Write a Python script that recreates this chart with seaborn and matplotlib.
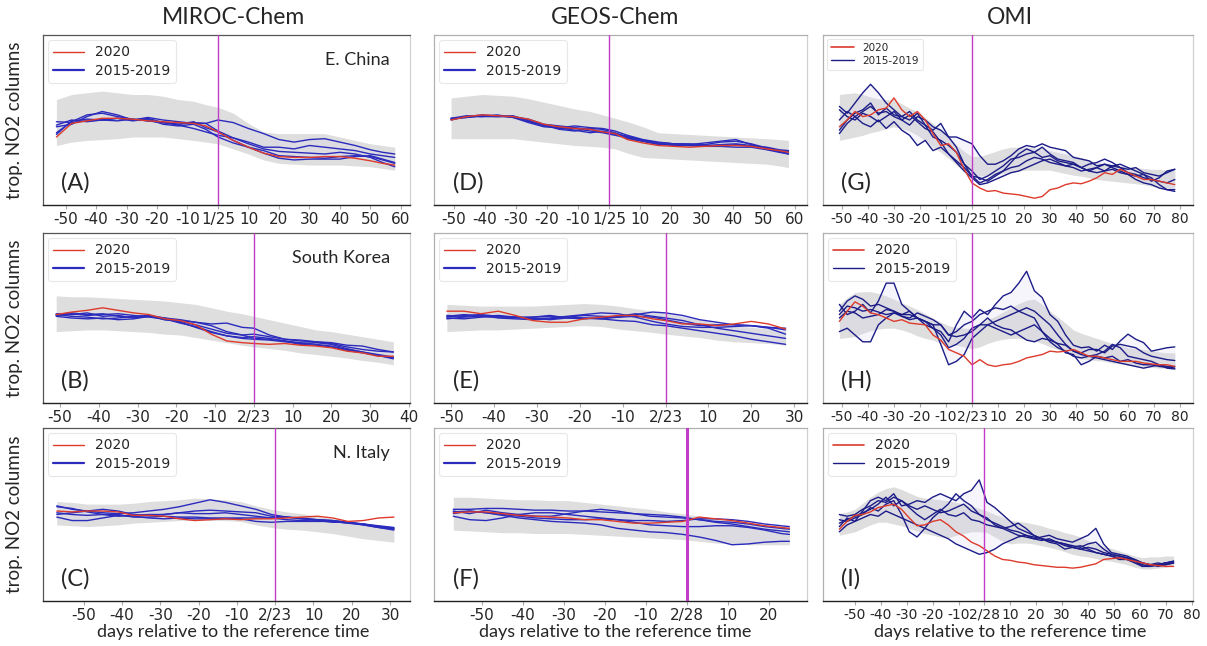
import matplotlib
matplotlib.use("Agg")
import matplotlib.pyplot as plt
from matplotlib.lines import Line2D
import seaborn as sns

# relative tropospheric NO2 columns (arbitrary units), x = days relative to reference date

# ---- (A) MIROC-Chem, E. China ----
A_day = [-53, -48, -43, -38, -33, -28, -23, -18, -13, -8, -4, 0, 5, 10, 15, 20, 25, 30, 35, 40, 45, 50, 54, 58]
A_2020 = [40, 48, 49.5, 51, 51, 50.5, 49.5, 49, 48.5, 48, 46.5, 43, 38, 34, 30.5, 28.5, 28, 28, 28.5, 28.5, 27.5, 26, 24.5, 23.5]
A_prev = [
    [49, 48.5, 49.5, 50, 49.5, 50.5, 49.5, 48.5, 47.5, 48.5, 48, 50, 48.5, 45, 42, 38.5, 37, 38.5, 39, 37, 35, 32.5, 31, 30],
    [42.5, 49, 53, 54, 52, 50.5, 49.5, 48.5, 47, 45, 43, 41, 39.5, 37, 34, 34, 33, 35, 34, 33, 32, 30, 29, 28],
    [46, 47.5, 52, 55, 53, 50, 51, 48.5, 47.5, 49, 45.5, 43, 38, 34, 30.5, 27.5, 26.5, 27, 27, 27, 28.5, 29, 27, 25],
    [47, 50, 49, 50, 51, 49.5, 50.5, 47.5, 46.5, 47.5, 44.5, 40, 36.5, 34, 32, 29, 28.5, 28, 27.5, 28.5, 29, 28.5, 26.5, 24.5],
    [41.5, 49.5, 50.5, 50, 51, 50, 51.5, 50, 49, 48, 48, 43.5, 39.5, 36, 33, 31.5, 31, 30.5, 30, 31, 30, 28, 25, 22.5],
]
A_hi = [62, 65, 66, 67, 66, 65, 65, 64, 62, 61, 59, 57.5, 54, 48, 43, 42, 42, 42, 42, 40, 38, 36, 35, 34]
A_lo = [35, 37, 38, 38.5, 39, 40, 40, 40, 39, 38, 37, 36, 33, 30, 26.5, 24.5, 24, 23.5, 23.5, 23.5, 23, 22.5, 21.5, 20.5]

# ---- (D) GEOS-Chem, E. China ----
D_day = [-51, -46, -41, -36, -31, -26, -21, -16, -11, -6, -2, 2, 6, 11, 16, 21, 26, 31, 36, 41, 46, 51, 55, 58]
D_2020 = [50, 52, 53, 52.5, 52, 50.5, 47.5, 46, 45, 44.5, 43, 42, 38.5, 36.5, 35, 34.5, 34, 34.5, 35, 35, 34.5, 33, 32, 31]
D_prev = [
    [51, 52.5, 52, 52, 52.5, 49.5, 46.5, 45.5, 46.5, 45.5, 45, 43.5, 41, 38.5, 37, 36, 36, 35.5, 37, 37.5, 36, 33.5, 32, 31.5],
    [50.5, 51.5, 52.5, 52.5, 52, 49, 47, 44.5, 43.5, 45, 44.5, 42.5, 40, 38, 36.5, 36, 35.5, 36.5, 37.5, 38.5, 35.5, 33, 31.5, 30.5],
    [50, 52, 52, 53, 51.5, 48.5, 46, 45.5, 44, 42.5, 43.5, 42, 39, 37.5, 36, 35, 35, 35, 34.5, 34, 34, 32.5, 31, 30],
    [51, 51.5, 52.5, 52, 52, 50.5, 47.5, 46.5, 45.5, 44.5, 43, 41.5, 40.5, 38, 36.5, 36, 35.5, 35, 35.5, 36, 35, 34, 32.5, 32],
    [50.5, 52, 53, 52.5, 51.5, 50, 47, 45, 45, 43.5, 42.5, 41, 39.5, 37.5, 35.5, 35.5, 35, 34.5, 34.5, 35.5, 34.5, 33, 31.5, 30],
]
D_hi = [63, 64, 65, 64.5, 64, 62.5, 60.5, 58.5, 56.5, 55, 53, 51, 49, 46, 42.5, 42, 41.5, 41, 40.5, 40, 39.5, 39, 38.5, 38]
D_lo = [39, 39, 39, 39, 39, 38, 37, 36, 35, 34.5, 34, 33, 30.5, 28, 27.5, 27, 26.5, 26, 25.5, 25, 24.5, 24, 23, 22]

# ---- (G) OMI, E. China ----
G_day = [-51, -48, -45, -42, -39, -36, -33, -30, -27, -24, -21, -18, -15, -12, -9, -6, -3, 0, 3, 6, 9, 12,
         15, 18, 21, 24, 27, 30, 33, 36, 39, 42, 45, 48, 51, 54, 57, 60, 63, 66, 69, 72, 75, 78]
G_2020 = [46, 50, 55, 52, 53, 56, 57, 63, 56, 52, 55, 50, 42, 35, 36, 31, 21, 13, 10, 8, 8.5, 7,
          6.5, 6, 5, 4, 5, 9, 10, 12, 13, 12.5, 14, 16, 19, 18, 21, 19, 17, 15, 15, 14, 13, 12]
G_prev = [
    [58, 54, 60, 66, 71, 66, 60, 56, 52, 55, 50, 47, 44, 48, 40, 34, 24, 17, 16, 14, 17, 20,
     25, 30, 33, 31, 34, 30, 27, 26, 25, 22, 20, 22, 24, 22, 20, 18, 17, 18, 14, 16, 20, 21],
    [50, 55, 52, 55, 58, 54, 55, 52, 50, 47, 52, 50, 46, 44, 40, 40, 38, 36, 29, 24, 24, 26,
     29, 33, 35, 34, 36, 34, 33, 32, 28, 27, 26, 23, 24, 23, 22, 21, 22, 19, 18, 17, 19, 21],
    [42, 48, 52, 48, 46, 50, 45, 49, 44, 41, 35, 38, 32, 34, 30, 25, 20, 16, 12, 13, 15, 17,
     19, 20, 22, 24, 26, 27, 25, 23, 24, 22, 20, 19, 20, 23, 24, 22, 20, 18, 16, 12, 9, 8],
    [56, 52, 50, 54, 52, 49, 52, 55, 50, 53, 49, 45, 43, 37, 30, 26, 22, 17, 13, 15, 18, 20,
     22, 23, 26, 28, 27, 25, 24, 23, 22, 20, 21, 22, 20, 21, 19, 18, 15, 13, 12, 10, 9, 9],
    [44, 50, 54, 56, 60, 53, 57, 53, 52, 50, 54, 47, 40, 38, 35, 31, 24, 20, 15, 17, 20, 23,
     27, 28, 30, 31, 28, 29, 26, 25, 24, 22, 24, 25, 27, 25, 22, 19, 18, 16, 15, 14, 13, 15],
]
G_hi = [65, 65.5, 66, 65, 63.5, 62.5, 62, 62, 59.5, 57, 55, 51.5, 48, 44.5, 40.5, 35.5, 31.5, 28.5, 28.5, 30, 31.5, 33,
        34, 34, 34, 33.5, 33, 32, 31, 30, 29, 28, 26.5, 25, 24, 23.5, 23, 22.5, 22, 21.5, 21, 21, 20.5, 20.5]
G_lo = [38, 39, 40, 41, 42.5, 43.5, 45, 46, 45, 43.5, 41, 38, 34, 31, 27.5, 23.5, 19.5, 16.5, 17, 17.5, 18, 18.5,
        19, 20, 20.5, 20.5, 20.5, 20.5, 19.5, 18.5, 17.5, 17, 16, 15, 14.5, 14, 13.5, 13, 12.5, 12, 11, 10.5, 10, 9]

# ---- (B) MIROC-Chem, South Korea ----
B_day = [-51, -47, -43, -39, -35, -31, -27, -23, -19, -15, -11, -7, -3, 0, 4, 8, 12, 16, 20, 24, 28, 32, 36]
B_2020 = [52, 53.5, 54.5, 56, 54.5, 53, 52, 49.5, 48.5, 46, 40.5, 36.5, 35.5, 35, 34.5, 35, 34, 33.5, 32.5, 30.5, 29.5, 27.5, 27.5]
B_prev = [
    [52.5, 52, 53, 51, 51.5, 50, 51, 49, 48.5, 47.5, 46.5, 47, 44.5, 44, 40, 37.5, 37, 36, 35, 33, 31.5, 30.5, 30],
    [51.5, 52.5, 51.5, 52, 52.5, 51.5, 50.5, 49.5, 47, 45, 42, 39.5, 38.5, 39, 38, 36.5, 34.5, 34, 33, 31, 29.5, 28, 26],
    [52, 51, 50.5, 49.5, 50, 51, 51.5, 50, 47.5, 44.5, 41.5, 39.5, 38, 37.5, 37, 36, 35, 35.5, 34.5, 32, 30, 28, 26.5],
    [51, 50, 49.5, 50, 49, 49.5, 51, 50, 49, 47.5, 45.5, 42, 40, 38, 37.5, 36.5, 35.5, 34.5, 33.5, 31.5, 30, 28.5, 27],
    [52, 53, 52, 52.5, 51, 50.5, 51.5, 49, 48, 46, 43.5, 41, 40, 40.5, 39, 37.5, 36.5, 36, 35.5, 34, 33.5, 31.5, 30],
]
B_hi = [63, 62.5, 62.5, 62, 61.5, 61, 60.5, 60, 59, 58, 56, 54, 52.5, 51, 49, 47, 45, 43, 42, 40.5, 39, 37.5, 36]
B_lo = [42, 42.5, 43, 43, 42.5, 42, 41.5, 40.5, 40, 38.5, 37, 35.5, 34, 33, 32, 31, 29.5, 28.5, 27.5, 26.5, 25, 24, 22.5]

# ---- (E) GEOS-Chem, South Korea ----
E_day = [-51, -47, -43, -39, -35, -31, -27, -23, -19, -15, -11, -7, -3, 0, 4, 8, 12, 16, 20, 24, 28]
E_2020 = [54, 54, 52.5, 54, 51.5, 48.5, 47.5, 47.5, 49.5, 50.5, 51.5, 51.5, 49.5, 48.5, 46.5, 46.5, 45.5, 46.5, 48, 46.5, 43.5]
E_prev = [
    [50.5, 51.5, 52, 51, 50, 50.5, 51, 50.5, 51.5, 51, 50.5, 52, 53.5, 53, 51.5, 49, 47.5, 46, 45.5, 44.5, 43],
    [51.5, 51, 51.5, 50, 49.5, 49, 49.5, 50.5, 50, 49.5, 48.5, 48, 46, 45.5, 44, 42.5, 41, 39.5, 37.5, 36, 34.5],
    [49.5, 50.5, 51, 51.5, 50.5, 49.5, 50, 51, 52, 53, 52.5, 50.5, 48, 46.5, 45, 44.5, 44.5, 45, 45.5, 44, 40.5],
    [50, 49.5, 50.5, 51, 50.5, 50, 49, 50, 49.5, 50, 51, 52.5, 51, 50, 48.5, 46, 44, 42.5, 41, 39.5, 38],
    [51, 52, 51, 50.5, 50.5, 50.5, 51.5, 50, 50, 49.5, 50.5, 51, 50.5, 49, 47, 45.5, 46, 46, 45.5, 44.5, 44],
]
E_hi = [58, 57.5, 57, 57, 57, 57, 57.5, 58, 58.5, 58, 57, 55.5, 54, 53, 51, 49, 47, 45.5, 44.5, 43.5, 42.5]
E_lo = [42, 42.5, 43, 43, 43.5, 44, 44.5, 45, 45.5, 45, 43.5, 42.5, 41.5, 40.5, 39.5, 38.5, 37, 36, 35.5, 35, 34]

# ---- (H) OMI, South Korea ----
H_day = G_day
H_2020 = [48, 54, 59.5, 57, 53, 52, 50, 48, 49, 47, 46.5, 46, 40, 37, 31.5, 29.5, 27.5, 22.5, 25.5, 22.5, 21.5, 22.5,
          23, 24.5, 26.5, 27.5, 28.5, 30.5, 30, 30.5, 31.5, 29.5, 27.5, 27.5, 26.5, 25.5, 24.5, 24.5, 24.5, 23.5, 23, 22.5, 22.5, 21.5]
H_prev = [
    [54, 60, 63, 61, 57, 58, 56, 54, 52, 52, 50, 46, 44, 42, 36, 46, 54, 50, 55, 52, 58, 63,
     65, 70.5, 77.5, 66, 62, 52, 48, 40, 34, 32.5, 33, 30.5, 34, 31.5, 36.5, 40.5, 37.5, 35.5, 30.5, 31.5, 32.5, 33],
    [58, 52, 54, 58, 53, 60, 70.5, 70.5, 58, 54, 50, 48, 46, 34.5, 22.5, 24.5, 28.5, 38, 42, 46, 48, 50,
     52, 54, 52, 50, 42, 38, 34.5, 29.5, 28.5, 22.5, 24.5, 27.5, 26.5, 27.5, 24.5, 25.5, 23.5, 22.5, 22.5, 21.5, 21, 21.5],
    [42, 44, 40, 36, 36, 46, 50, 53, 52, 54, 50, 48, 46, 46, 40, 39, 40, 42, 46, 50, 46, 44,
     43, 40, 37, 36, 38, 37, 35, 34, 30.5, 28.5, 27.5, 26.5, 25.5, 24.5, 23.5, 22.5, 21.5, 20.5, 21.5, 22.5, 21.5, 20.5],
    [52, 57, 56, 54, 55, 53.5, 52, 53, 51, 50, 53, 51, 49, 46, 40, 42, 46, 48, 52, 54, 56, 55,
     57, 54, 56, 54, 50, 46, 40, 34.5, 30.5, 29.5, 31.5, 31.5, 29.5, 33.5, 34.5, 33.5, 32.5, 29.5, 27.5, 26.5, 25.5, 25],
    [50, 54, 53, 50, 51, 52, 55, 54, 51, 49, 50, 48, 44, 40, 32.5, 34.5, 38, 44, 46, 46, 44, 42,
     40, 42, 44, 46, 42, 36, 32.5, 30.5, 27.5, 26.5, 27.5, 28.5, 30.5, 34.5, 32.5, 27.5, 26.5, 25.5, 24.5, 22.5, 20.5, 20],
]
H_hi = [58, 62, 65, 65.5, 65.5, 64.5, 63, 61, 59, 57, 55, 52.5, 50, 47.5, 45.5, 44.5, 44, 44, 46.5, 49, 51, 53.5,
        56, 58.5, 60.5, 61, 58, 54, 50.5, 47, 43, 41, 39.5, 38, 36.5, 35, 34, 32.5, 32, 31.5, 31, 30, 29.5, 29.5]
H_lo = [38, 38.5, 39, 41, 42.5, 43.5, 44, 44, 43, 41.5, 39.5, 38, 37, 35, 34, 34, 33, 32, 33, 35, 36.5, 37.5,
        38, 38, 37.5, 36.5, 35, 33, 31.5, 30, 27.5, 26, 25.5, 25, 24.5, 23.5, 23, 22.5, 22, 21.5, 21, 20.5, 20.5, 20.5]

# ---- (C) MIROC-Chem, N. Italy ----
C_day = [-57, -53, -49, -45, -41, -37, -33, -29, -25, -21, -17, -13, -9, -5, -1, 3, 7, 11, 15, 19, 23, 27, 31]
C_2020 = [52, 51.5, 52, 52, 51.5, 49.5, 49.5, 49, 47.5, 46.5, 47, 47.5, 47, 47.5, 47.5, 48, 48.5, 49, 48, 46, 46.5, 48, 48.5]
C_prev = [
    [55, 53, 52, 51, 50.5, 51, 52, 53, 54.5, 56.5, 58.5, 57, 55, 53, 50, 48.5, 47.5, 47, 46, 45, 44.5, 43.5, 42.5],
    [50, 51, 52, 53, 52, 50, 49.5, 50, 51, 52, 52.5, 52, 51.5, 51, 49, 48.5, 48, 47, 46.5, 45.5, 44.5, 43, 42],
    [48.5, 46.5, 46.5, 48, 49.5, 49, 48, 47.5, 48, 47.5, 47.5, 47.5, 47.5, 46, 45.5, 46, 46, 46, 46, 45, 44, 42.5, 41.5],
    [54.5, 53.5, 51.5, 50, 49, 49.5, 50, 50, 51, 50.5, 50.5, 51, 50, 49, 48, 48.5, 47.5, 46.5, 45.5, 45.5, 44.5, 43, 42],
    [51, 50, 49.5, 50, 50, 48.5, 48.5, 49, 48.5, 48.5, 48, 48, 48, 48, 48, 47, 46.5, 47, 46.5, 45.5, 44, 42.5, 41],
]
C_hi = [57.5, 57, 56, 56, 56, 56.5, 57.5, 58, 58.5, 59.5, 59, 58.5, 57.5, 55, 53, 51.5, 50.5, 49, 47.5, 46, 45, 44, 43]
C_lo = [44, 43.5, 43, 43.5, 44, 45, 45.5, 46, 46.5, 47, 46.5, 46.5, 46, 44, 42.5, 41.5, 41, 40, 39, 37.5, 36, 35, 34]

# ---- (F) GEOS-Chem, N. Italy ----
F_day = [-57, -53, -49, -45, -41, -37, -33, -29, -25, -21, -17, -13, -9, -5, -1, 3, 7, 11, 15, 19, 23, 25]
F_2020 = [51, 51.5, 51.5, 50.5, 49.5, 49, 48.5, 48, 47, 47, 46, 45, 45, 45.5, 46, 48.5, 47.5, 46.5, 45, 43.5, 42.5, 42]
F_prev = [
    [53, 53, 53.5, 53.5, 53, 52.5, 52.5, 52, 52, 51.5, 51, 50.5, 50, 49.5, 48.5, 47, 45.5, 44.5, 43, 41.5, 40.5, 40],
    [50.5, 52, 51, 49.5, 48, 47, 46, 45.5, 45, 44, 42, 41, 40, 39.5, 38.5, 37, 35, 32.5, 33, 34, 34.5, 34.5],
    [49, 47, 46.5, 48, 50, 51, 51, 50, 49, 48, 47, 45.5, 44, 43.5, 43, 43, 43.5, 43.5, 42.5, 41, 39, 38.5],
    [52, 50.5, 52.5, 51, 50, 49, 49, 50.5, 52, 53, 52, 50.5, 49, 48.5, 48, 47, 46, 45.5, 44.5, 43, 42, 41.5],
    [51.5, 52, 51, 50, 49, 48, 47.5, 47, 47, 47.5, 47, 46.5, 46.5, 46, 46.5, 47.5, 47.5, 47, 46, 44.5, 43.5, 43],
]
F_hi = [60, 60, 59.5, 59, 58.5, 58.5, 58, 58, 57, 56, 55, 54, 53, 51.5, 50.5, 49, 48, 46.5, 45.5, 44, 43, 43]
F_lo = [41, 40.5, 40, 39.5, 39.5, 39, 39, 39, 38.5, 38, 37.5, 37, 36.5, 36, 35.5, 34.5, 33.5, 33, 32.5, 32.5, 32.5, 32.5]

# ---- (I) OMI, N. Italy ----
I_day = [-56, -53, -50, -47, -44, -41, -38, -35, -32, -29, -26, -23, -20, -17, -14, -11, -8, -5, -2, 1, 4, 7,
         10, 13, 16, 19, 22, 25, 28, 31, 34, 37, 40, 43, 46, 49, 52, 55, 58, 61, 64, 67, 70, 73]
I_2020 = [41.5, 46, 49.5, 50, 51.5, 54, 55, 56, 53, 48, 43.5, 44, 46, 47, 44, 40, 37.5, 34, 32, 29, 26, 24,
          23.5, 22.5, 22, 21, 20.5, 20, 19.5, 19.5, 19, 19.5, 20.5, 21.5, 24, 24.5, 25, 24, 23, 22, 21, 20.5, 20, 20]
I_prev = [
    [43, 48, 46, 52, 58, 60, 58, 62, 55, 56, 58, 57, 60, 62, 60, 58, 62, 64, 70, 57, 54, 50,
     46, 42, 40, 38, 36, 35, 34, 33, 32, 31, 33, 34, 30, 27, 26, 25, 23, 20, 21, 22, 21, 22],
    [47, 46, 48, 50, 54, 52, 56, 58, 50, 40, 37, 42, 48, 52, 56, 62, 58, 55, 50, 48, 44, 42,
     43, 45, 42, 38, 36, 34, 33, 30, 31, 32, 30, 28, 27, 26, 24, 24, 23, 21, 20, 21, 22, 23],
    [40, 44, 46, 48, 50, 49, 52, 50, 48, 46, 44, 42, 40, 38, 36, 33, 31, 29, 27, 28, 30, 33,
     35, 37, 38, 37, 36, 35, 34, 33, 31, 30, 29, 28, 27, 26, 25, 24, 22, 20, 20, 21, 22, 22],
    [50, 49, 50, 53, 55, 58, 57, 60, 58, 55, 53, 55, 53, 51, 52, 54, 56, 52, 50, 47, 45, 43,
     41, 40, 38, 36, 35, 36, 34, 32, 31, 30, 31, 30, 28, 27, 26, 25, 24, 22, 21, 21, 22, 23],
    [45, 47, 49, 51, 53, 56, 60, 55, 58, 54, 50, 47, 50, 53, 50, 49, 51, 47, 46, 44, 43, 42,
     40, 38, 37, 36, 37, 38, 36, 35, 34, 36, 38, 42, 33, 28, 27, 26, 24, 22, 21, 20, 21, 22],
]
I_hi = [50.5, 51.5, 53, 56.5, 60, 63, 65, 66, 64.5, 62.5, 60.5, 59.5, 59, 58.5, 58, 57, 56, 55, 53.5, 52, 50, 48.5,
        46.5, 46, 45.5, 44.5, 43.5, 42, 41, 39.5, 38.5, 37, 35, 33, 31.5, 30.5, 29, 27.5, 26, 25, 25.5, 25.5, 26, 26]
I_lo = [38, 39, 40, 42, 44, 45.5, 45.5, 44.5, 43.5, 42, 40.5, 39, 38, 37, 36.5, 38, 39, 40, 40, 39.5, 37, 34.5,
        33, 33.5, 33.5, 33, 32, 31, 30, 28.5, 27, 26, 25.5, 24.5, 23.5, 23, 22, 21, 19.5, 18.5, 18.5, 19, 19.5, 20.5]

models = ["MIROC-Chem", "GEOS-Chem", "OMI"]

RED = "#dd3b2c"
BLUE = "#2b2bbd"
NAVY = "#1c1c88"
MAGENTA = "#c23cc9"

sns.set_style("white")
plt.rcParams["font.family"] = ["Lato", "DejaVu Sans"]

W, H = 1207, 646
fig = plt.figure(figsize=(W / 100, H / 100), dpi=100)

col_px = [(43, 410), (434, 807), (823, 1193)]
row_px = [(35, 205), (233, 403), (428, 601)]

panels = [
    # row, col, letter, data..., xlim, ticks, ref label, region
    (0, 0, "A", A_day, A_2020, A_prev, A_lo, A_hi, (-57.4, 63), range(-50, 61, 10), "1/25", "E. China"),
    (0, 1, "D", D_day, D_2020, D_prev, D_lo, D_hi, (-56.5, 64), range(-50, 61, 10), "1/25", None),
    (0, 2, "G", G_day, G_2020, G_prev, G_lo, G_hi, (-57.3, 85), range(-50, 81, 10), "1/25", None),
    (1, 0, "B", B_day, B_2020, B_prev, B_lo, B_hi, (-54.4, 40.3), range(-50, 41, 10), "2/23", "South Korea"),
    (1, 1, "E", E_day, E_2020, E_prev, E_lo, E_hi, (-54, 33), range(-50, 31, 10), "2/23", None),
    (1, 2, "H", H_day, H_2020, H_prev, H_lo, H_hi, (-57.3, 85), range(-50, 81, 10), "2/23", None),
    (2, 0, "C", C_day, C_2020, C_prev, C_lo, C_hi, (-60.6, 35.2), range(-50, 31, 10), "2/23", "N. Italy"),
    (2, 1, "F", F_day, F_2020, F_prev, F_lo, F_hi, (-61.7, 29.3), range(-50, 21, 10), "2/28", None),
    (2, 2, "I", I_day, I_2020, I_prev, I_lo, I_hi, (-62.3, 80.5), range(-50, 81, 10), "2/28", None),
]

for r, c, letter, day, y2020, prev, lo, hi, xlim, ticks, ref, region in panels:
    x0, x1 = col_px[c]
    y0, y1 = row_px[r]
    ax = fig.add_axes([x0 / W, 1 - y1 / H, (x1 - x0) / W, (y1 - y0) / H])

    blue = NAVY if c == 2 else BLUE
    ax.fill_between(day, lo, hi, color="#dedede", lw=0, zorder=1)
    # faint envelope of the 2015-2019 curves
    env_lo = [min(v) for v in zip(*prev)]
    env_hi = [max(v) for v in zip(*prev)]
    ax.fill_between(day, env_lo, env_hi, color="#cfcfee", alpha=0.2, lw=0, zorder=2)
    for yr in prev:
        sns.lineplot(x=day, y=yr, ax=ax, color=blue, lw=1.0, zorder=3, legend=False)
    sns.lineplot(x=day, y=y2020, ax=ax, color=RED, lw=1.0, zorder=4, legend=False)

    ax.axvline(0, color=MAGENTA, lw=2.2 if letter == "F" else 1.0, zorder=5)

    ax.set_xlim(*xlim)
    ax.set_ylim(0, 100)
    ax.set_yticks([])
    ax.set_xticks(list(ticks))
    ax.set_xticklabels([ref if t == 0 else str(t) for t in ticks],
                       family="DejaVu Sans", fontsize=10 if c == 2 else 11)
    ax.tick_params(axis="x", length=3, width=0.8, color="#aaaaaa", pad=2, bottom=True)
    ax.set_xlabel("")
    ax.set_ylabel("")

    for side in ["top", "right", "left"]:
        ax.spines[side].set_color("#b0b0b0" if c else "#555555")
        ax.spines[side].set_linewidth(0.9)
    ax.spines["right"].set_color("#d0d0d0")
    ax.spines["bottom"].set_color("#222222")
    ax.spines["bottom"].set_linewidth(1.0)

    handles = [Line2D([], [], color=RED, lw=1.2 if c == 2 else 1.0),
               Line2D([], [], color=blue, lw=1.0 if c == 2 else 1.6)]
    leg = ax.legend(handles, ["2020", "2015-2019"], loc="upper left",
                    fontsize=7.5 if letter == "G" else 10, frameon=True,
                    handlelength=2.2, borderaxespad=0.35, labelspacing=0.3)
    leg.get_frame().set_edgecolor("#e2e2e2")
    leg.get_frame().set_linewidth(0.8)
    for t in leg.get_texts():
        t.set_family("DejaVu Sans")

    ax.text(0.05, 0.13, f"({letter})", transform=ax.transAxes, fontsize=17, va="center", ha="left")
    if region:
        ax.text(0.945, 0.855, region, transform=ax.transAxes, fontsize=13, va="center", ha="right")

col_centers = [233, 615, 1010]
for cx, name in zip(col_centers, models):
    fig.text(cx / W, 1 - 17 / H, name, fontsize=16.5, ha="center", va="center")
    fig.text(cx / W, 1 - 632 / H, "days relative to the reference time", fontsize=13, ha="center", va="center")

for y0, y1 in row_px:
    fig.text(15 / W, 1 - (y0 + y1) / 2 / H, "trop. NO2 columns", fontsize=13.5,
             rotation=90, ha="center", va="center")

fig.savefig("out.png", dpi=100, facecolor="white")
